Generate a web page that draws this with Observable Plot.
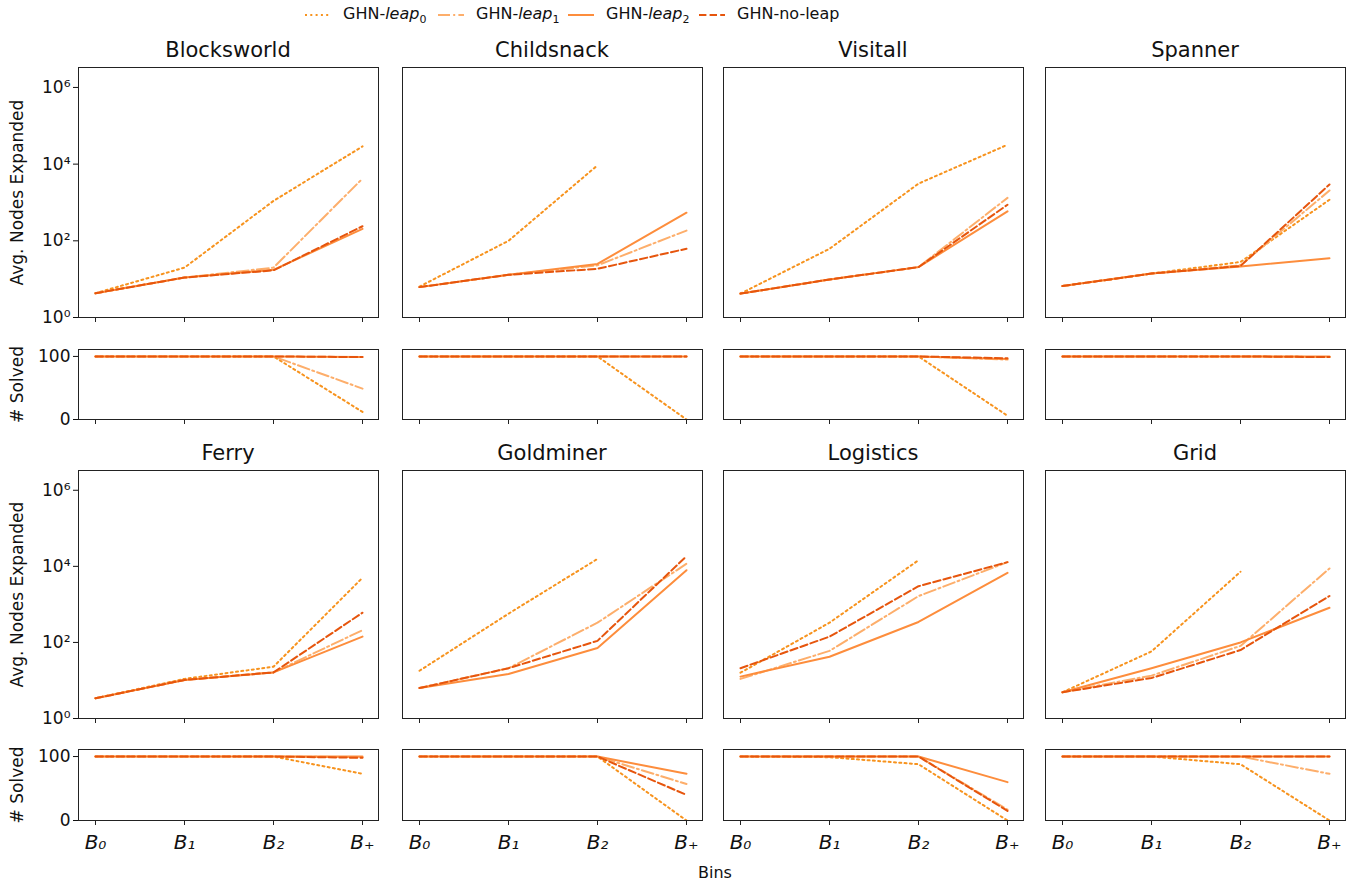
<!DOCTYPE html>
<html>
<head>
<meta charset="utf-8">
<script src="https://cdn.jsdelivr.net/npm/d3@7"></script>
<script src="https://cdn.jsdelivr.net/npm/@observablehq/plot@0.6"></script>
<style>
  body { margin: 0; background: #fff; font-family: "DejaVu Sans", sans-serif; }
  #root { position: relative; width: 1354px; height: 883px; overflow: hidden; }
  .abs { position: absolute; }
  .title { font-size: 21px; line-height: 22px; color: #111; text-align: center; width: 300px; }
  .leg { font-size: 16px; color: #111; white-space: nowrap; }
  .leg sub { font-size: 11px; }
  svg { overflow: visible; }
</style>
</head>
<body>
<div id="root"></div>
<script>
// ---------- data ----------
const bins = ["B0", "B1", "B2", "B+"];
const binLabels = ["B₀", "B₁", "B₂", "B₊"];
const methods = ["leap0", "leap1", "leap2", "noleap"];
const domains = ["Blocksworld", "Childsnack", "Visitall", "Spanner", "Ferry", "Goldminer", "Logistics", "Grid"];

// avg. nodes expanded, rows in method order: leap0, leap1, leap2, no-leap
const blocksworldNodes = [[4.3, 20, 1100, 29000], [4.3, 11, 20, 4200], [4.3, 11, 17.5, 205], [4.3, 11, 17, 240]];
const childsnackNodes  = [[6.4, 100, 9300, null], [6.2, 13, 23, 185], [6.2, 13, 25, 540], [6.2, 13, 18.6, 62]];
const visitallNodes    = [[4.2, 62, 3100, 32000], [4.2, 9.8, 20.6, 1320], [4.2, 9.8, 20.6, 585], [4.2, 9.8, 20.6, 870]];
const spannerNodes     = [[6.6, 14, 28, 1180], [6.6, 14, 23, 2050], [6.6, 14, 21.5, 35], [6.6, 14, 22, 2950]];
const ferryNodes       = [[3.4, 11, 23, 5000], [3.4, 10.3, 16.3, 210], [3.4, 10.3, 16.3, 142], [3.4, 10.3, 16.3, 605]];
const goldminerNodes   = [[18, 570, 15700, null], [6.3, 21, 330, 11700], [6.3, 14.8, 71, 7900], [6.3, 21, 110, 18500]];
const logisticsNodes   = [[16, 330, 14500, null], [11, 60, 1650, 12900], [12.6, 42, 345, 6750], [21, 142, 3000, 12900]];
const gridNodes        = [[4.9, 58, 7200, null], [4.9, 13.4, 81, 8800], [4.9, 21, 100, 815], [4.9, 11.6, 63, 1660]];

// # solved
const blocksworldSolved = [[100, 100, 100, 12], [100, 100, 100, 49], [100, 100, 100, 99], [100, 100, 100, 99]];
const childsnackSolved  = [[100, 100, 100, 0], [100, 100, 100, 100], [100, 100, 100, 100], [100, 100, 100, 100]];
const visitallSolved    = [[100, 100, 100, 6], [100, 100, 100, 95], [100, 100, 100, 96], [100, 100, 100, 97]];
const spannerSolved     = [[100, 100, 100, 99], [100, 100, 100, 99], [100, 100, 100, 100], [100, 100, 100, 99]];
const ferrySolved       = [[100, 100, 100, 73], [100, 100, 100, 99], [100, 100, 100, 100], [100, 100, 100, 98]];
const goldminerSolved   = [[100, 100, 100, 0], [100, 100, 100, 57], [100, 100, 100, 73], [100, 100, 100, 40]];
const logisticsSolved   = [[100, 99, 88, 0], [100, 100, 100, 17], [100, 100, 100, 60], [100, 100, 100, 15]];
const gridSolved        = [[100, 100, 88, 0], [100, 100, 100, 73], [100, 100, 100, 100], [100, 100, 100, 100]];

const nodesByDomain = [blocksworldNodes, childsnackNodes, visitallNodes, spannerNodes, ferryNodes, goldminerNodes, logisticsNodes, gridNodes];
const solvedByDomain = [blocksworldSolved, childsnackSolved, visitallSolved, spannerSolved, ferrySolved, goldminerSolved, logisticsSolved, gridSolved];

// ---------- styles ----------
const colors = {leap0: "#f7931e", leap1: "#fdae6b", leap2: "#fd8d3c", noleap: "#e6550d"};
const dashes = {leap0: "2,3.3", leap1: "12,3.2,2,3.2", leap2: null, noleap: "7.4,3.2"};
const font = "DejaVu Sans";

function tidy(mat) {
  const rows = [];
  mat.forEach((vals, mi) => vals.forEach((v, bi) => rows.push({method: methods[mi], bin: bins[bi], value: v})));
  return rows;
}

const colLeft = [78, 402, 723, 1045];
const frameW = 300;
const rowGeo = [{nodes: [67, 317], solved: [349, 419], title: 39}, {nodes: [470, 718], solved: [749, 820], title: 442}];
const sup = {"0": "⁰", "2": "²", "4": "⁴", "6": "⁶"};

const root = document.getElementById("root");

function place(el, left, top) {
  el.style.position = "absolute";
  el.style.left = left + "px";
  el.style.top = top + "px";
  root.appendChild(el);
}

function lineMarks(data) {
  return methods.map(m => Plot.line(data.filter(d => d.method === m), {
    x: "bin", y: "value", stroke: colors[m], strokeWidth: 2,
    strokeDasharray: dashes[m]
  }));
}

domains.forEach((name, i) => {
  const r = Math.floor(i / 4), c = i % 4;
  const geo = rowGeo[r];
  const first = c === 0;
  const ml = first ? 78 : 1, mr = 3;

  // title
  const t = document.createElement("div");
  t.className = "title";
  t.textContent = name;
  place(t, colLeft[c], geo.title);

  // nodes expanded panel
  const nH = geo.nodes[1] - geo.nodes[0];
  const nodesPlot = Plot.plot({
    width: ml + frameW + mr, height: 1 + nH + 8,
    marginLeft: ml, marginRight: mr, marginTop: 1, marginBottom: 8,
    style: {fontFamily: font, fontSize: "17px", color: "#111", background: "transparent"},
    x: {type: "point", domain: bins, padding: 0.17, axis: null},
    y: {type: "log", domain: [1, Math.pow(10, 6.52)], axis: null},
    marks: [
      ...lineMarks(tidy(nodesByDomain[i])),
      Plot.axisX({ticks: bins, tickFormat: () => "", tickSize: 5, label: null, stroke: "#222"}),
      first ? Plot.axisY({ticks: [1, 1e2, 1e4, 1e6], tickSize: 5, tickPadding: 3,
        tickFormat: d => "10" + sup[String(Math.round(Math.log10(d)))],
        label: "Avg. Nodes Expanded", labelAnchor: "center", labelArrow: "none", labelOffset: 68, fontSize: 17}) : null,
      Plot.frame({stroke: "#222", strokeWidth: 1})
    ]
  });
  place(nodesPlot, colLeft[c] - ml, geo.nodes[0] - 1);

  // solved panel
  const sH = geo.solved[1] - geo.solved[0];
  const bottomRow = r === 1;
  const mb = bottomRow ? 40 : 8;
  const solvedPlot = Plot.plot({
    width: ml + frameW + mr, height: 1 + sH + mb,
    marginLeft: ml, marginRight: mr, marginTop: 1, marginBottom: mb,
    style: {fontFamily: font, fontSize: "17px", color: "#111", background: "transparent"},
    x: {type: "point", domain: bins, padding: 0.17, axis: null},
    y: {domain: [0, 111], axis: null},
    marks: [
      ...lineMarks(tidy(solvedByDomain[i])),
      Plot.axisX({ticks: bins, tickSize: 5, tickPadding: 9, label: null, stroke: "#222",
        tickFormat: bottomRow ? (d => binLabels[bins.indexOf(d)]) : () => "",
        fontSize: 20, fontStyle: "italic"}),
      first ? Plot.axisY({ticks: [0, 100], tickSize: 5, tickPadding: 3, tickFormat: d => String(d),
        label: "# Solved", labelAnchor: "center", labelArrow: "none", labelOffset: 68, fontSize: 17}) : null,
      Plot.frame({stroke: "#222", strokeWidth: 1})
    ]
  });
  place(solvedPlot, colLeft[c] - ml, geo.solved[0] - 1);
});

// x label
const xl = document.createElement("div");
xl.className = "abs";
xl.style.fontSize = "16px";
xl.style.color = "#111";
xl.textContent = "Bins";
place(xl, 698, 863);

// legend
const legendItems = [
  {m: "leap0", html: "GHN-<i>leap</i><sub>0</sub>", x: 304},
  {m: "leap1", html: "GHN-<i>leap</i><sub>1</sub>", x: 437},
  {m: "leap2", html: "GHN-<i>leap</i><sub>2</sub>", x: 567},
  {m: "noleap", html: "GHN-no-leap", x: 698}
];
legendItems.forEach(it => {
  const ns = "http://www.w3.org/2000/svg";
  const s = document.createElementNS(ns, "svg");
  s.setAttribute("width", 28); s.setAttribute("height", 6);
  const l = document.createElementNS(ns, "line");
  l.setAttribute("x1", 1); l.setAttribute("x2", 27); l.setAttribute("y1", 3); l.setAttribute("y2", 3);
  l.setAttribute("stroke", colors[it.m]); l.setAttribute("stroke-width", 2);
  if (dashes[it.m]) l.setAttribute("stroke-dasharray", dashes[it.m]);
  s.appendChild(l);
  place(s, it.x, 12);
  const t = document.createElement("div");
  t.className = "leg";
  t.innerHTML = it.html;
  place(t, it.x + 39, 4);
});
</script>
</body>
</html>
